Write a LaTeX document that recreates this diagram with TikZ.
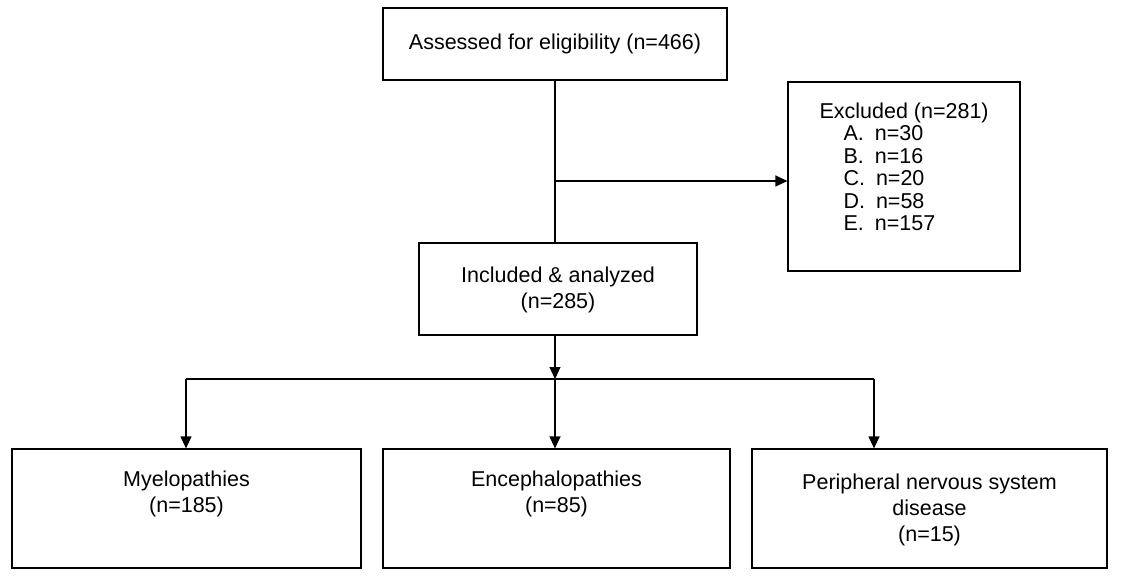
\documentclass[tikz,border=0pt]{standalone}
\usepackage{fontspec}
\setmainfont{Liberation Sans}
\usetikzlibrary{arrows.meta}
\begin{document}
\begin{tikzpicture}[x=1pt,y=-1pt,
  box/.style={draw,line width=1.2pt,inner sep=0pt},
  txt/.style={font=\fontsize{21.5}{26}\selectfont,align=center},
  line/.style={line width=1.2pt},
  arr/.style={line width=1.2pt,-{Triangle[length=12pt,width=11pt]}}]
\useasboundingbox (0,0) rectangle (1127,588);
\node[box,minimum width=344pt,minimum height=72pt] (a) at (555,44) {};
\node[txt] (at) at (555,44) {Assessed for eligibility (n=466)};
\node[box,minimum width=232pt,minimum height=189pt] (ex) at (904,176.5) {};
\node[txt,align=left,anchor=north west] (ext) at (816,99) {Excluded (n=281)\\[-3.5pt]
\hspace*{24pt}A.\hspace*{11pt}n=30\\[-3.5pt]
\hspace*{24pt}B.\hspace*{11pt}n=16\\[-3.5pt]
\hspace*{24pt}C.\hspace*{11pt}n=20\\[-3.5pt]
\hspace*{24pt}D.\hspace*{11pt}n=58\\[-3.5pt]
\hspace*{24pt}E.\hspace*{11pt}n=157};
\node[box,minimum width=278pt,minimum height=92pt] (inc) at (558,289) {};
\node[txt] (inct) at (558,290) {Included \& analyzed\\(n=285)};
\node[box,minimum width=349pt,minimum height=119pt] (m) at (186.5,508.5) {};
\node[txt] (mt) at (186.5,494) {Myelopathies\\(n=185)};
\node[box,minimum width=347pt,minimum height=119pt] (e) at (556.5,508.5) {};
\node[txt] (et) at (556.5,494) {Encephalopathies\\(n=85)};
\node[box,minimum width=355pt,minimum height=119pt] (p) at (929.5,508.5) {};
\node[txt] (pt) at (929.5,510) {Peripheral nervous system\\disease\\(n=15)};
\coordinate (j1) at (555,181);
\coordinate (j2) at (555,379);
\coordinate (l) at (186,379);
\coordinate (r) at (874,379);
\draw[line] (a.south -| j1) -- (inc.north -| j1);
\draw[arr] (j1) -- (ex.west |- j1);
\draw[arr] (inc.south -| j2) -- (j2);
\draw[line] (l) -- (r);
\draw[arr] (l) -- (m.north -| l);
\draw[arr] (j2) -- (e.north -| j2);
\draw[arr] (r) -- (p.north -| r);
\end{tikzpicture}
\end{document}
